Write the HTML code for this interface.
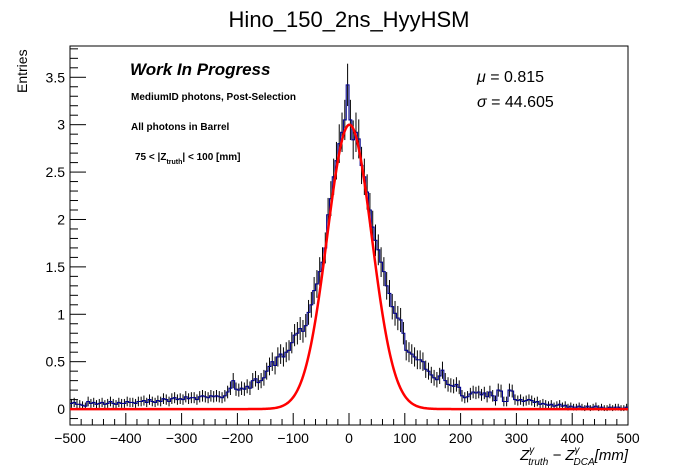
<!DOCTYPE html>
<html><head><meta charset="utf-8"><style>
body{margin:0;background:#fff;}
svg{display:block;font-family:"Liberation Sans",sans-serif;}
</style></head><body>
<svg id="c" width="698" height="474" viewBox="0 0 698 474">
<rect x="0" y="0" width="698" height="474" fill="#fff"/>
<text x="349" y="27" font-size="22" text-anchor="middle">Hino_150_2ns_HyyHSM</text>
<text transform="translate(27,93) rotate(-90)" font-size="14" text-anchor="start">Entries</text>
<text x="628" y="460" font-size="15" font-style="italic" text-anchor="end">Z<tspan font-size="10" dy="-7">γ</tspan><tspan font-size="10" dx="-6" dy="12">truth</tspan><tspan dy="-5"> − Z</tspan><tspan font-size="10" dy="-7">γ</tspan><tspan font-size="10" dx="-6" dy="12">DCA</tspan><tspan dy="-5">[mm]</tspan></text>
<g id="axes"></g>
<g id="marks"></g>
<text x="130" y="75" font-size="17" font-weight="bold" font-style="italic">Work In Progress</text>
<text x="131" y="100" font-size="10" font-weight="bold">MediumID photons, Post-Selection</text>
<text x="131" y="130" font-size="10" font-weight="bold">All photons in Barrel</text>
<text x="135" y="160" font-size="10" font-weight="bold">75 &lt; |Z<tspan font-size="7" dy="4">truth</tspan><tspan dy="-4">| &lt; 100 [mm]</tspan></text>
<text x="477" y="82" font-size="16"><tspan font-style="italic">μ</tspan> = 0.815</text>
<text x="477" y="107" font-size="16"><tspan font-style="italic">σ</tspan> = 44.605</text>
</svg>
<script>
const binEdgesStart = -500;
const binWidth = 5;
const counts = [
0.06,0.07,0.05,0.05,0.04,0.03,0.08,0.06,0.07,0.05,
0.06,0.07,0.05,0.06,0.08,0.06,0.05,0.07,0.06,0.06,
0.08,0.07,0.07,0.06,0.08,0.08,0.09,0.07,0.10,0.08,
0.07,0.09,0.08,0.11,0.10,0.08,0.11,0.12,0.10,0.11,
0.10,0.13,0.11,0.12,0.12,0.10,0.13,0.14,0.13,0.12,
0.14,0.13,0.14,0.13,0.12,0.14,0.18,0.22,0.30,0.21,
0.20,0.22,0.21,0.24,0.22,0.30,0.32,0.28,0.30,0.33,
0.40,0.45,0.50,0.46,0.55,0.58,0.55,0.60,0.62,0.70,
0.78,0.80,0.85,0.82,0.88,1.02,1.10,1.25,1.32,1.45,
1.55,1.70,2.05,2.22,2.45,2.62,2.80,2.92,3.05,3.42,
3.05,2.84,2.92,2.85,2.57,2.45,2.29,2.10,1.92,1.78,
1.68,1.55,1.45,1.30,1.22,1.08,1.01,0.96,0.94,0.80,
0.62,0.60,0.58,0.55,0.52,0.52,0.50,0.42,0.40,0.36,
0.33,0.31,0.35,0.41,0.30,0.26,0.25,0.24,0.26,0.23,
0.14,0.12,0.13,0.16,0.18,0.17,0.18,0.15,0.17,0.13,
0.18,0.14,0.09,0.20,0.19,0.08,0.08,0.20,0.19,0.10,
0.09,0.10,0.08,0.09,0.10,0.09,0.07,0.08,0.05,0.06,
0.05,0.04,0.05,0.03,0.04,0.05,0.03,0.04,0.02,0.03,
0.02,0.02,0.03,0.02,0.01,0.03,0.01,0.02,0.03,0.01,
0.02,0.01,0.01,0.02,0.01,0.02,0.02,0.01,0.01,0.02];
const fitParams = [3.0, 0.815, 40];
const xTicks = [-500,-400,-300,-200,-100,0,100,200,300,400,500];
const yTicks = [0,0.5,1,1.5,2,2.5,3,3.5];

const L=70,R=628,T=46,B=425;
const xmin=-500,xmax=500,ymin=-0.168,ymax=3.83;
const X=v=>L+(v-xmin)/(xmax-xmin)*(R-L);
const Y=v=>B-(v-ymin)/(ymax-ymin)*(B-T);
const NS='http://www.w3.org/2000/svg';
function mk(tag,attrs,parent){const e=document.createElementNS(NS,tag);for(const k in attrs)e.setAttribute(k,attrs[k]);parent.appendChild(e);return e;}
const axes=document.getElementById('axes'), marks=document.getElementById('marks');

const frame=mk('rect',{x:L,y:T,width:R-L,height:B-T,fill:'none',stroke:'#000','stroke-width':1},axes);



for(let v=xmin;v<=xmax;v+=20){
  const major=xTicks.includes(v);
  const t=mk('line',{x1:X(v),x2:X(v),y1:B,y2:B-(major?12:6),stroke:'#000'},axes);
  
  
}
xTicks.forEach(v=>{
  const t=mk('text',{x:X(v),y:B+18,'font-size':14,'text-anchor':'middle'},axes);
  t.textContent=v===0?'0':(v<0?'−'+(-v):String(v));
  
  
});
for(let i=-1;i<=38;i++){
  const v=i*0.1; if(v<ymin||v>ymax)continue;
  const major=i%5===0;
  const t=mk('line',{x1:L,x2:L+(major?16:8),y1:Y(v),y2:Y(v),stroke:'#000'},axes);
  
  
}
yTicks.forEach(v=>{
  const t=mk('text',{x:L-5,y:Y(v)+5,'font-size':14,'text-anchor':'end'},axes);
  t.textContent=String(v);
  
  
});

counts.forEach((c,i)=>{
  const xc=binEdgesStart+(i+0.5)*binWidth;
  const e=0.11*Math.sqrt(c)+0.02;
  const l=mk('line',{x1:X(xc),x2:X(xc),y1:Y(Math.min(c+e,ymax)),y2:Y(Math.max(c-e,ymin)),stroke:'#000','stroke-width':1},marks);
  
  
});
let d='';
counts.forEach((c,i)=>{
  const x0=X(binEdgesStart+i*binWidth),x1=X(binEdgesStart+(i+1)*binWidth);
  d+=(i===0?'M':'L')+x0.toFixed(2)+','+Y(c).toFixed(2)+'L'+x1.toFixed(2)+','+Y(c).toFixed(2);
});
const h=mk('path',{d:d,fill:'none',stroke:'#00008c','stroke-width':1.1},marks);


let fd='';
for(let v=-500;v<=500;v+=2){
  const f=fitParams[0]*Math.exp(-0.5*Math.pow((v-fitParams[1])/fitParams[2],2));
  fd+=(v===-500?'M':'L')+X(v).toFixed(2)+','+Y(f).toFixed(2);
}
const fl=mk('path',{d:fd,fill:'none',stroke:'#ff0000','stroke-width':2.5},marks);


</script>
</body></html>
